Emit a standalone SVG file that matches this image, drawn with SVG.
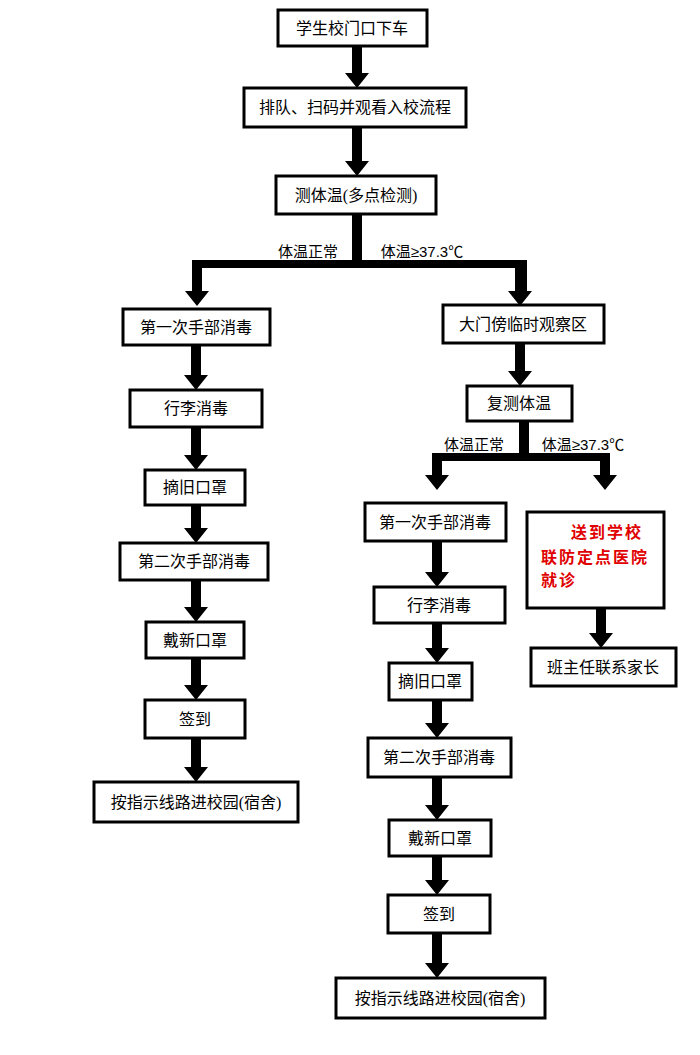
<svg xmlns="http://www.w3.org/2000/svg" width="700" height="1055" viewBox="0 0 700 1055">
<style>
rect{fill:#fff;stroke:#000;stroke-width:3}
text{font-family:"Liberation Serif","Noto Sans CJK SC",serif;font-size:16px;fill:#000;text-anchor:middle}
.l{font-size:15px}
.r{fill:#e00000;font-weight:bold;font-size:16px;letter-spacing:2px;text-anchor:start}
.c path{fill:#000}
</style>
<rect x="0" y="0" width="700" height="1055" style="stroke:none"/>
<g class="c" id="connectors">
<path d="M352,46 H362 V73 H369 L357,88 L345,73 H352 Z"/>
<path d="M352,127 H362 V161 H369 L357,176 L345,161 H352 Z"/>
<path d="M352,214 H362 V260 H527 V291 H532 L520,306 L508,291 H515 V268 H202 V291 H209 L197,306 L185,291 H192 V260 H352 Z"/>
<path d="M515,343 H525 V371 H532 L520,386 L508,371 H515 Z"/>
<path d="M519,421 H529 V453 H610 V475 H617 L605,490 L593,475 H600 V461 H442 V475 H449 L437,490 L425,475 H432 V453 H519 Z"/>
<path d="M596,608 H606 V633 H613 L601,648 L589,633 H596 Z"/>
<path d="M191,345 H201 V375 H208 L196,390 L184,375 H191 Z"/>
<path d="M191,427 H201 V455 H208 L196,470 L184,455 H191 Z"/>
<path d="M191,505 H201 V528 H208 L196,543 L184,528 H191 Z"/>
<path d="M191,580 H201 V607 H208 L196,622 L184,607 H191 Z"/>
<path d="M191,658 H201 V685 H208 L196,700 L184,685 H191 Z"/>
<path d="M191,738 H201 V767 H208 L196,782 L184,767 H191 Z"/>
<path d="M432,541 H442 V572 H449 L437,587 L425,572 H432 Z"/>
<path d="M432,623 H442 V648 H449 L437,663 L425,648 H432 Z"/>
<path d="M432,700 H442 V723 H449 L437,738 L425,723 H432 Z"/>
<path d="M432,777 H442 V805 H449 L437,820 L425,805 H432 Z"/>
<path d="M432,856 H442 V880 H449 L437,895 L425,880 H432 Z"/>
<path d="M432,933 H442 V963 H449 L437,978 L425,963 H432 Z"/>
<text class="l" x="308" y="257">体温正常</text>
<text class="l" x="422" y="257" style="font-family:'Liberation Sans','Noto Sans CJK SC',sans-serif">体温≥37.3℃</text>
<text class="l" x="474" y="450">体温正常</text>
<text class="l" x="583" y="450" style="font-family:'Liberation Sans','Noto Sans CJK SC',sans-serif">体温≥37.3℃</text>
</g>
<g id="n1"><rect x="278" y="10" width="149" height="36"/><text x="352" y="34">学生校门口下车</text></g>
<g id="n2"><rect x="244" y="88" width="222" height="39"/><text x="355" y="113">排队、扫码并观看入校流程</text></g>
<g id="n3"><rect x="276" y="176" width="160" height="38"/><text x="356" y="201">测体温(多点检测)</text></g>
<g id="l1"><rect x="123" y="309" width="147" height="36"/><text x="196" y="333">第一次手部消毒</text></g>
<g id="l2"><rect x="130" y="390" width="132" height="37"/><text x="196" y="414">行李消毒</text></g>
<g id="l3"><rect x="145" y="470" width="100" height="35"/><text x="195" y="493">摘旧口罩</text></g>
<g id="l4"><rect x="120" y="543" width="148" height="37"/><text x="194" y="567">第二次手部消毒</text></g>
<g id="l5"><rect x="146" y="622" width="98" height="36"/><text x="195" y="646">戴新口罩</text></g>
<g id="l6"><rect x="145" y="700" width="100" height="38"/><text x="195" y="725">签到</text></g>
<g id="l7"><rect x="94" y="782" width="204" height="40"/><text x="196" y="808">按指示线路进校园(宿舍)</text></g>
<g id="r1"><rect x="443" y="305" width="161" height="38"/><text x="523" y="330">大门傍临时观察区</text></g>
<g id="r2"><rect x="467" y="386" width="105" height="35"/><text x="519" y="409">复测体温</text></g>
<g id="r3"><rect x="365" y="503" width="141" height="38"/><text x="435" y="528">第一次手部消毒</text></g>
<g id="r4"><rect x="527" y="512" width="137" height="96"/><text class="r" x="571" y="538">送到学校</text><text class="r" x="541" y="563">联防定点医院</text><text class="r" x="541" y="586">就诊</text></g>
<g id="r5"><rect x="531" y="648" width="145" height="38"/><text x="603" y="673">班主任联系家长</text></g>
<g id="r6"><rect x="374" y="587" width="131" height="36"/><text x="439" y="611">行李消毒</text></g>
<g id="r7"><rect x="389" y="663" width="83" height="37"/><text x="430" y="687">摘旧口罩</text></g>
<g id="r8"><rect x="368" y="738" width="143" height="39"/><text x="439" y="763">第二次手部消毒</text></g>
<g id="r9"><rect x="389" y="820" width="102" height="36"/><text x="440" y="844">戴新口罩</text></g>
<g id="r10"><rect x="388" y="895" width="102" height="38"/><text x="439" y="920">签到</text></g>
<g id="r11"><rect x="336" y="978" width="209" height="40"/><text x="440" y="1004">按指示线路进校园(宿舍)</text></g>
</svg>
